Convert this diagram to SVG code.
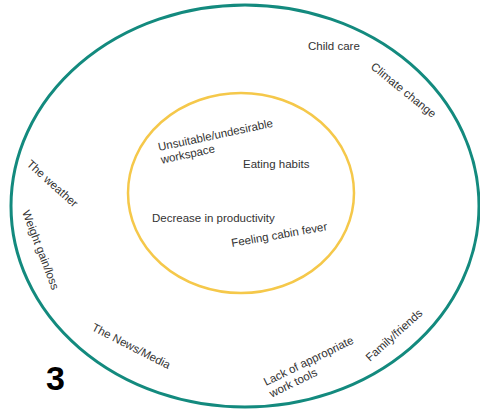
<svg xmlns="http://www.w3.org/2000/svg" width="480" height="409" viewBox="0 0 480 409">
<style>
.t{font-family:"Liberation Sans",Arial,sans-serif;font-size:11.5px;fill:#333333}
.ring{fill:none}
</style>
<rect width="480" height="409" fill="#ffffff"/>
<g id="outer-ring"><ellipse class="ring" cx="245" cy="206" rx="234" ry="201" stroke="#138a7e" stroke-width="3"/></g>
<g id="inner-ring"><ellipse class="ring" cx="241" cy="193" rx="113" ry="100" stroke="#f5c84a" stroke-width="2.5"/></g>
<g id="connectors"></g>
<g id="child-care"><text class="t" x="308" y="50">Child care</text></g>
<g id="climate-change"><text class="t" transform="translate(370,68) rotate(39)">Climate change</text></g>
<g id="the-weather"><text class="t" transform="translate(26,165) rotate(42)">The weather</text></g>
<g id="weight"><text class="t" transform="translate(22,212) rotate(69)">Weight gain/loss</text></g>
<g id="news"><text class="t" transform="translate(91,330) rotate(27)">The News/Media</text></g>
<g id="tools"><text class="t" transform="translate(266,386) rotate(-26)"><tspan x="0" y="0">Lack of appropriate</tspan><tspan x="0" y="13">work tools</tspan></text></g>
<g id="family"><text class="t" transform="translate(370,362) rotate(-42)">Family/friends</text></g>
<g id="workspace"><text class="t" transform="translate(159,151) rotate(-12)"><tspan x="0" y="0">Unsuitable/undesirable</tspan><tspan x="0" y="13">workspace</tspan></text></g>
<g id="eating"><text class="t" x="243" y="168">Eating habits</text></g>
<g id="productivity"><text class="t" x="152" y="222">Decrease in productivity</text></g>
<g id="cabin"><text class="t" transform="translate(232,247) rotate(-10)">Feeling cabin fever</text></g>
<g id="label-3"><text x="46" y="390" font-family="Liberation Sans,Arial,sans-serif" font-weight="bold" font-size="34" fill="#000000">3</text></g>
</svg>
